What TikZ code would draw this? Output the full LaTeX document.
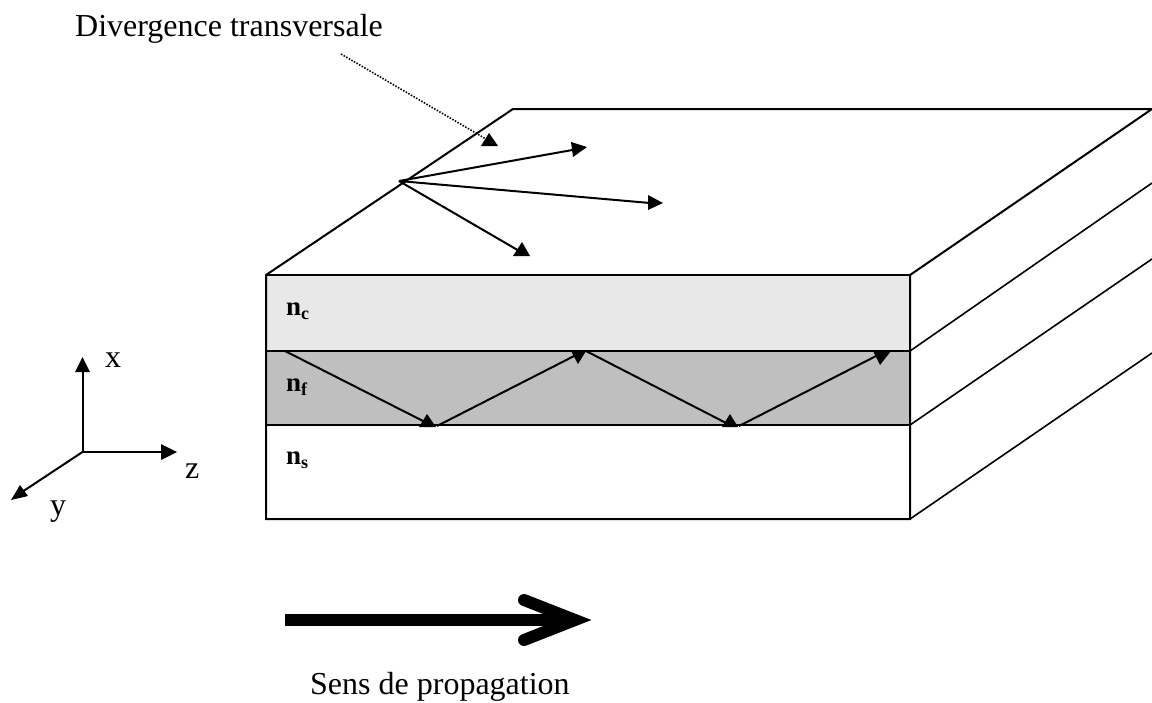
\documentclass[tikz,border=0pt]{standalone}
\usepackage{fontspec}
\setmainfont{Liberation Serif}
\tikzset{
  edge/.style={line width=2pt,black},
  thin edge/.style={line width=1.6pt,black},
  head/.style={fill=black,draw=none},
  label text/.style={inner sep=0pt,font=\fontsize{32}{38}\selectfont,anchor=base west},
  idx/.style={inner sep=0pt,anchor=base west,font=\fontsize{27}{32}\selectfont\bfseries},
}
\newcommand{\layerlabel}[1]{n\raisebox{-4.5pt}{\fontsize{18}{20}\selectfont #1}}
\begin{document}
\begin{tikzpicture}[x=1pt,y=-1pt]
\useasboundingbox (0,0) rectangle (1152,702);
% corners
\coordinate (a1) at (266,275); \coordinate (b1) at (910,275);
\coordinate (a2) at (266,351); \coordinate (b2) at (910,351);
\coordinate (a3) at (266,425); \coordinate (b3) at (910,425);
\coordinate (a4) at (266,519); \coordinate (b4) at (910,519);
\coordinate (t0) at (513,109); \coordinate (t1) at (1152,109);
\coordinate (r2) at (1152,183); \coordinate (r3) at (1152,259); \coordinate (r4) at (1152,353);
% layers
\fill[fill=black!9] (a1) rectangle (b2);
\fill[fill=black!25] (a2) rectangle (b3);
\draw[edge,line join=miter] (t1) -- (t0) -- (a1) -- (a4) -- (b4) -- (b1) -- cycle;
\draw[edge] (a1) -- (b1);
\draw[edge] (a2) -- (b2);
\draw[edge] (a3) -- (b3);
\draw[thin edge] (b2) -- (r2);
\draw[thin edge] (b3) -- (r3);
\draw[thin edge] (b4) -- (r4);
% divergence
\coordinate (o) at (399,181);
\coordinate (d1) at (578,149); \coordinate (d2) at (650,203); \coordinate (d3) at (521,252);
\draw[edge] (o) -- (d1);
\draw[edge] (o) -- (d2);
\draw[edge] (o) -- (d3);
\fill[head] (587,147) -- (571,142) -- (573,157) -- cycle;
\fill[head] (663,203) -- (648,195) -- (648,210) -- cycle;
\fill[head] (522,242) -- (513,256) -- (530,256) -- cycle;
% callout
\node[label text] (div) at (75,36) {Divergence transversale};
\coordinate (c0) at (341,54); \coordinate (c1) at (486,139);
\draw[line width=1.6pt,dash pattern=on 1.5pt off 1.5pt] (c0) -- (c1);
\fill[head] (489,133) -- (481,146) -- (498,146) -- cycle;
% zigzag
\coordinate (z0) at (285,351); \coordinate (z1) at (431,425); \coordinate (z2) at (437,426);
\coordinate (z3) at (580,353); \coordinate (z4) at (586,351); \coordinate (z5) at (730,425);
\coordinate (z6) at (739,426); \coordinate (z7) at (882,353);
\draw[edge] (z0) -- (z1);
\draw[edge] (z2) -- (z3);
\draw[edge] (z4) -- (z5);
\draw[edge] (z6) -- (z7);
\fill[head] (427,414) -- (419,427) -- (436,427) -- cycle;
\fill[head] (578,364) -- (571,351) -- (586,351) -- cycle;
\fill[head] (730,414) -- (722,427) -- (738,427) -- cycle;
\fill[head] (880,365) -- (873,351) -- (891,351) -- cycle;
% labels
\node[idx] (nc) at (286,315) {\layerlabel{c}};
\node[idx] (nf) at (286,391) {\layerlabel{f}};
\node[idx] (ns) at (286,464) {\layerlabel{s}};
% axes
\coordinate (ax) at (82.5,452);
\coordinate (ax1) at (82.5,370); \coordinate (ax2) at (163,452); \coordinate (ax3) at (22,492);
\draw[edge] (ax) -- (ax1);
\draw[edge] (ax) -- (ax2);
\draw[edge] (ax) -- (ax3);
\fill[head] (82.5,357) -- (75,372) -- (90,372) -- cycle;
\fill[head] (177,452) -- (161,444) -- (161,460) -- cycle;
\fill[head] (11,500) -- (20,485) -- (28,496) -- cycle;
\node[label text] (lx) at (105,367) {x};
\node[label text] (lz) at (185,478) {z};
\node[label text] (ly) at (50,515) {y};
% propagation arrow
\coordinate (p0) at (285,620); \coordinate (p1) at (572,620);
\coordinate (h1) at (524,600); \coordinate (h2) at (575,620); \coordinate (h3) at (524,640);
\draw[line width=12pt] (p0) -- (p1);
\draw[line width=12pt,line cap=round,line join=miter] (h1) -- (h2) -- (h3);
\node[label text] (sens) at (310,694) {Sens de propagation};
\end{tikzpicture}
\end{document}
